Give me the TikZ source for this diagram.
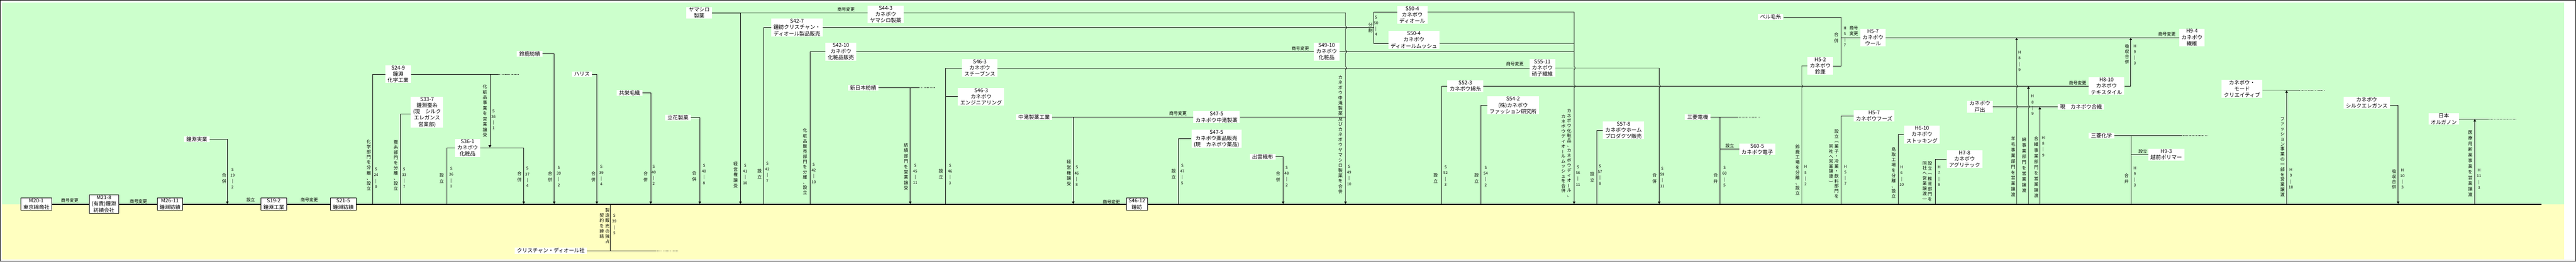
\documentclass[tikz,border=0pt]{standalone}
\usepackage{fontspec}
\setmainfont{Noto Sans CJK JP}
\usepackage{graphicx}
\usetikzlibrary{arrows.meta}

\definecolor{midori}{HTML}{CCFFCC}
\definecolor{kiiro}{HTML}{FFFFC0}

% tategaki
\newcommand\tate[2][11.4pt]{\vbox{\baselineskip=#1\lineskiplimit=-\maxdimen\tateA#2\relax}}
\def\tateA#1{\ifx\relax#1\else\tateB{#1}\expandafter\tateA\fi}
\def\tateB#1{\hbox to 11pt{\hss\tateC#1\hss}}
\def\tateC#1{\ifx ー#1\rotatebox[origin=c]{90}{ー}\else\ifx (#1\rotatebox[origin=c]{-90}{(}\else\ifx )#1\rotatebox[origin=c]{-90}{)}\else#1\fi\fi\fi}
\newcommand\hiduke[3]{\vbox{\baselineskip=12.7pt\lineskiplimit=-\maxdimen
  \hbox to 14pt{\hss#1\hss}\hbox to 14pt{\hss#2\hss}\hbox to 14pt{\hss|\hss}\hbox to 14pt{\hss#3\hss}}}

\begin{document}
\begin{tikzpicture}[x=1pt,y=-1.0994pt,
  lbl/.style={fill=white,inner xsep=5pt,inner ysep=1pt,align=center,font=\fontsize{11.5}{13.8}\selectfont},
  kaisha/.style={lbl,draw,line width=0.8pt,inner ysep=2pt},
  kw/.style={inner sep=0pt,font=\fontsize{9.5}{12.8}\selectfont},
  hd/.style={inner sep=0pt,font=\fontsize{8.5}{10}\selectfont},
  ln/.style={line width=0.8pt},
  arr/.style={ln,-{Triangle[width=6pt,length=5pt]},shorten >=0.8pt},
  tensen/.style={ln,dash pattern=on 1.6pt off 1.6pt},
  honsen/.style={line width=2.2pt}]
  \useasboundingbox (0,0) rectangle (5658,523);
  \fill[midori] (5,4.7) rectangle (5632,408.3);
  \fill[kiiro] (5,408.3) rectangle (5632,518.5);
  \draw[line width=0.9pt] (0.9,0.9) rectangle (5657.1,522.1);

  % main line
  \node[kaisha] (m20) at (79.8,408.3) {M20-1\\東京綿商社};
  \node[kaisha] (m21) at (228.3,408.3) {M21-8\\(有責)鐘淵\\紡績会社};
  \node[kaisha] (m26) at (373.3,408.3) {M26-11\\鐘淵紡績};
  \node[kaisha] (s19) at (601.3,408.3) {S19-2\\鐘淵工業};
  \node[kaisha] (s21) at (753.8,408.3) {S21-5\\鐘淵紡績};
  \node[kaisha] (s46) at (2497,408.3) {S46-12\\鐘紡};
  \coordinate (owari) at (5581.7,408.3);
  \node[kw] (h1) at (153.3,401) {商号変更};
  \node[kw] (h2) at (304,402.3) {商号変更};
  \node[kw] (h3) at (550.7,400) {設立};
  \node[kw] (h4) at (679.3,400) {商号変更};
  \node[kw] (h5) at (2441,403.3) {商号変更};

  % S19
  \node[lbl] (jitsugyo) at (432.3,278.3) {鐘淵実業};
  \coordinate (g19) at (499.3,408.3);
  \draw[arr] (jitsugyo.east) -| (g19);
  \node[kw] (t19) at (492.3,356.7) {\tate[13.5pt]{合併}};
  \node[hd] (d19) at (510.7,356.7) {\hiduke{S}{19}{2}};

  % S24
  \node[lbl] (kagaku) at (874.5,148.3) {S24-9\\鐘淵\\化学工業};
  \coordinate (g24) at (818.3,408.3);
  \coordinate (kagakuE) at (1093.3,148.3);
  \coordinate (kagakuD) at (1139.3,148.3);
  \draw[ln] (g24) |- (kagaku.west);
  \draw[ln] (kagaku.east) -- (kagakuE);
  \draw[tensen] (kagakuE) -- (kagakuD);
  \node[kw] (t24) at (810,330) {\tate{化学部門を分離、設立}};
  \node[hd] (d24) at (826,355.8) {\hiduke{S}{24}{9}};

  % S33
  \node[lbl] (sanshi) at (938,224.3) {S33-7\\鐘淵蚕糸\\(現　シルク\\エレガンス\\営業部)};
  \coordinate (g33) at (879.3,408.3);
  \draw[ln] (g33) |- ([yshift=-3.7pt]sanshi.west);
  \node[kw] (t33) at (869.3,330.8) {\tate{蚕糸部門を分離、設立}};
  \node[hd] (d33) at (887.7,355.5) {\hiduke{S}{33}{7}};

  % S36, S37
  \node[lbl] (kesho36) at (1027,295.7) {S36-1\\カネボウ\\化粧品};
  \coordinate (b36) at (1076,148.3);
  \coordinate (e36) at (1076,295.7);
  \coordinate (g36) at (981,408.3);
  \coordinate (g37) at (1150.3,408.3);
  \draw[arr] (b36) -- (e36);
  \draw[ln] (kesho36.west) -| (g36);
  \draw[arr] (kesho36.east) -| (g37);
  \node[kw] (t36a) at (1065.3,221.7) {\tate[11.8pt]{化粧品事業を営業譲受}};
  \node[hd] (d36a) at (1084,239) {\hiduke{S}{36}{1}};
  \node[kw] (t36b) at (970,356) {\tate[13.5pt]{設立}};
  \node[hd] (d36b) at (991,354.7) {\hiduke{S}{36}{1}};
  \node[kw] (t37) at (1141,353) {\tate[13.5pt]{合併}};
  \node[hd] (d37) at (1158.3,354) {\hiduke{S}{37}{4}};

  % S39
  \node[lbl] (suzuka) at (1163.5,107.7) {鈴鹿紡績};
  \coordinate (g39a) at (1217.3,408.3);
  \draw[arr] (suzuka.east) -| (g39a);
  \node[kw] (t39a) at (1208.3,353.5) {\tate[13.5pt]{合併}};
  \node[hd] (d39a) at (1227.3,352.5) {\hiduke{S}{39}{2}};
  \node[lbl] (harisu) at (1278.3,148.3) {ハリス};
  \coordinate (g39b) at (1311,408.3);
  \draw[arr] (harisu.east) -| (g39b);
  \node[kw] (t39b) at (1303.3,353) {\tate[13.5pt]{合併}};
  \node[hd] (d39b) at (1320.7,351) {\hiduke{S}{39}{4}};

  % Dior contract
  \node[lbl] (dior) at (1209.8,501.2) {クリスチャン・ディオール社};
  \coordinate (diorE) at (1440,501.2);
  \coordinate (diorD) at (1490,501.2);
  \coordinate (b39) at (1340.7,501.2);
  \coordinate (g39c) at (1340.7,408.3);
  \draw[ln] (dior.east) -- (diorE);
  \draw[tensen] (diorE) -- (diorD);
  \draw[ln] (b39) -- (g39c);
  \node[kw] (t39c) at (1334.3,451.7) {\tate{製造販売の独占}};
  \node[kw] (t39d) at (1321.7,451.7) {\tate{契約を締結}};
  \node[hd] (d39c) at (1349.3,448.5) {\hiduke{S}{39}{5}};

  % S40
  \node[lbl] (kyoei) at (1382.8,185.7) {共栄毛織};
  \coordinate (g40a) at (1429.3,408.3);
  \draw[arr] (kyoei.east) -| (g40a);
  \node[kw] (t40a) at (1418.3,353) {\tate[13.5pt]{合併}};
  \node[hd] (d40a) at (1435.7,350) {\hiduke{S}{40}{2}};
  \node[lbl] (tachibana) at (1489,235) {立花製菓};
  \coordinate (g40b) at (1537,408.3);
  \draw[arr] (tachibana.east) -| (g40b);
  \node[kw] (t40b) at (1525,352) {\tate[13.5pt]{合併}};
  \node[hd] (d40b) at (1546.3,348.5) {\hiduke{S}{40}{8}};

  % S41, S44
  \node[lbl] (yamashiro) at (1535.8,25.7) {ヤマシロ\\製薬};
  \coordinate (g41) at (1626.3,408.3);
  \draw[arr] (yamashiro.east) -| (g41);
  \node[lbl] (yamas44) at (1945.3,28.8) {S44-3\\カネボウ\\ヤマシロ製薬};
  \draw[ln] (yamashiro.east) -- ([yshift=3.4pt]yamas44.west);
  \node[kw] (h44) at (1858.3,19.3) {商号変更};
  \node[kw] (t41) at (1615.7,349.7) {\tate[12.1pt]{経営権譲受}};
  \node[hd] (d41) at (1636.7,348.5) {\hiduke{S}{41}{10}};

  % S42-7
  \node[lbl] (dior42) at (1750.5,55) {S42-7\\鐘紡クリスチャン・\\ディオール製品販売};
  \coordinate (g42a) at (1677.7,408.3);
  \coordinate (b50) at (3017.7,55);
  \draw[ln] (g42a) |- (dior42.west);
  \draw[ln] (dior42.east) -- (b50);
  \node[kw] (t42a) at (1668.3,348.3) {\tate[13.5pt]{設立}};
  \node[hd] (d42a) at (1685.3,344.2) {\hiduke{S}{42}{7}};

  % S42-10
  \node[lbl] (hanbai) at (1847,103.3) {S42-10\\カネボウ\\化粧品販売};
  \coordinate (g42b) at (1779.3,408.3);
  \draw[ln] (g42b) |- (hanbai.west);
  \node[kw] (t42b) at (1768.3,323.3) {\tate{化粧品販売部門を分離、設立}};
  \node[hd] (d42b) at (1787.3,346.3) {\hiduke{S}{42}{10}};
  \node[lbl] (kesho49) at (2913.8,103.3) {S49-10\\カネボウ\\化粧品};
  \node[kw] (h49) at (2856,96.7) {商号変更};
  \coordinate (e56b) at (3457.3,103.3);
  \draw[ln] (hanbai.east) -- (kesho49.west);
  \draw[ln] (kesho49.east) -- (e56b);

  % S45
  \node[lbl] (shinnihon) at (1895.8,175.7) {新日本紡績};
  \coordinate (shinE) at (2016.7,175.7);
  \coordinate (shinD) at (2054,175.7);
  \coordinate (b45) at (1999.3,175.7);
  \coordinate (g45) at (1999.3,408.3);
  \draw[ln] (shinnihon.east) -- (shinE);
  \draw[tensen] (shinE) -- (shinD);
  \draw[arr] (b45) -- (g45);
  \node[kw] (t45) at (1990,333.3) {\tate[11.8pt]{紡績部門を営業譲受}};
  \node[hd] (d45) at (2010,348) {\hiduke{S}{45}{11}};

  % S46-3, S55, S58
  \node[lbl] (stevens) at (2152,136) {S46-3\\カネボウ\\スチーブンス};
  \node[lbl] (eng) at (2155,193.3) {S46-3\\カネボウ\\エンジニアリング};
  \coordinate (g46a) at (2076.7,408.3);
  \coordinate (b46) at (2076.7,193.3);
  \draw[ln] (g46a) |- (stevens.west);
  \draw[ln] (b46) -- (eng.west);
  \node[kw] (t46a) at (2066.7,348.3) {\tate[13.5pt]{設立}};
  \node[hd] (d46a) at (2086.7,348.5) {\hiduke{S}{46}{3}};
  \node[lbl] (glass) at (3387.7,136) {S55-11\\カネボウ\\硝子繊維};
  \node[kw] (h55) at (3327.3,128.3) {商号変更};
  \draw[ln] (stevens.east) -- (glass.west);
  \coordinate (g58) at (3644.3,408.3);
  \draw[arr] (glass.east) -- (3644.3,136) -- (3644.3,169.8)
    .. controls +(3.3,0) and +(3.3,0) .. (3644.3,174.8) -- (g58);
  \node[kw] (t58) at (3634.3,356.7) {\tate[13.5pt]{合併}};
  \node[hd] (d58) at (3651,354.5) {\hiduke{S}{58}{11}};

  % S46-8, S47-5
  \node[lbl] (nakataki) at (2271.3,234.3) {中滝製薬工業};
  \coordinate (g46b) at (2357.3,408.3);
  \draw[arr] (nakataki.east) -| (g46b);
  \node[lbl] (nakas47) at (2672,234.3) {S47-5\\カネボウ中滝製薬};
  \node[kw] (h47) at (2587.3,226.7) {商号変更};
  \coordinate (e49) at (2955.3,234.3);
  \draw[ln] (nakataki.east) -- (nakas47.west);
  \draw[ln] (nakas47.east) -- (e49);
  \node[kw] (t46b) at (2347.7,345.7) {\tate[12.1pt]{経営権譲受}};
  \node[hd] (d46b) at (2365,352) {\hiduke{S}{46}{8}};

  \node[lbl] (yakuhin) at (2671.8,277.5) {S47-5\\カネボウ薬品販売\\(現　カネボウ薬品)};
  \coordinate (g47) at (2588.7,408.3);
  \draw[ln] (g47) |- (yakuhin.west);
  \node[kw] (t47) at (2577.7,348) {\tate[13.5pt]{設立}};
  \node[hd] (d47) at (2596.7,348.5) {\hiduke{S}{47}{5}};

  % S48
  \node[lbl] (izumo) at (2773.3,313.3) {出雲織布};
  \coordinate (g48) at (2818.3,408.3);
  \draw[arr] (izumo.east) -| (g48);
  \node[kw] (t48) at (2807.3,353.3) {\tate[13.5pt]{合併}};
  \node[hd] (d48) at (2826,352.5) {\hiduke{S}{48}{2}};

  % S49-10
  \coordinate (g49) at (2955.3,408.3);
  \draw[arr] ([yshift=3.4pt]yamas44.east) -- (2955.3,25.7) -- (2955.3,52.5)
    .. controls +(3.3,0) and +(3.3,0) .. (2955.3,57.5) -- (2955.3,100.8)
    .. controls +(3.3,0) and +(3.3,0) .. (2955.3,105.8) -- (2955.3,133.5)
    .. controls +(3.3,0) and +(3.3,0) .. (2955.3,138.5) -- (g49);
  \node[kw] (t49) at (2944.3,269) {\tate{カネボウ中滝製薬及びカネボウヤマシロ製薬を合併}};
  \node[hd] (d49) at (2963.3,350.5) {\hiduke{S}{49}{10}};

  % S50-4
  \node[lbl] (diorA) at (3102,30) {S50-4\\カネボウ\\ディオール};
  \node[lbl] (diorB) at (3105.5,79.7) {S50-4\\カネボウ\\ディオールムッシュ};
  \draw[ln] ([yshift=6.6pt]diorA.west) -| (b50) |- ([yshift=-7.7pt]diorB.west);
  \node[kw] (t50) at (3010,55.5) {\tate[12pt]{分割}};
  \node[hd] (d50) at (3022.3,51.5) {\hiduke{S}{50}{4}};

  % S52-3, H8-10
  \node[lbl] (menshi) at (3218.5,172.3) {S52-3\\カネボウ綿糸};
  \coordinate (g52) at (3166.7,408.3);
  \draw[ln] (g52) |- (menshi.west);
  \node[kw] (t52) at (3153.3,356.7) {\tate[13.5pt]{設立}};
  \node[hd] (d52) at (3175,351.7) {\hiduke{S}{52}{3}};
  \node[lbl] (textile) at (4626.7,172.3) {H8-10\\カネボウ\\テキスタイル};
  \node[kw] (h810) at (4563.3,165.7) {商号変更};
  \draw[ln] (menshi.east) -- (textile.west);

  % S54-2
  \node[lbl] (kenkyu) at (3323.3,210.7) {S54-2\\(株)カネボウ\\ファッション研究所};
  \coordinate (g54) at (3252.3,408.3);
  \draw[ln] (g54) |- (kenkyu.west);
  \node[kw] (t54) at (3243.3,356) {\tate[13.5pt]{設立}};
  \node[hd] (d54) at (3263.3,352.5) {\hiduke{S}{54}{2}};

  % S56-11
  \coordinate (g56) at (3457.3,408.3);
  \draw[arr] ([yshift=6.6pt]diorA.east) -- (3457.3,24) -- (3457.3,133.5)
    .. controls +(3.3,0) and +(3.3,0) .. (3457.3,138.5) -- (3457.3,169.8)
    .. controls +(3.3,0) and +(3.3,0) .. (3457.3,174.8) -- (g56);
  \draw[ln] ([yshift=-7.7pt]diorB.east) -- (3457.3,86.7);
  \node[kw] (t56a) at (3446.7,306) {\tate[10.9pt]{カネボウ化粧品、カネボウディオール、}};
  \node[kw] (t56b) at (3434,307.5) {\tate[10.9pt]{カネボウディオールムッシュを合併}};
  \node[hd] (d56) at (3466,351.5) {\hiduke{S}{56}{11}};

  % S57-8
  \node[lbl] (home) at (3566,260.5) {S57-8\\カネボウホーム\\プロダクツ販売};
  \coordinate (g57) at (3507,408.3);
  \draw[ln] (g57) |- (home.west);
  \node[kw] (t57) at (3497.3,354.3) {\tate[13.5pt]{設立}};
  \node[hd] (d57) at (3514.3,349.5) {\hiduke{S}{57}{8}};

  % S60-5
  \node[lbl] (mdenki) at (3728.8,234.3) {三菱電機};
  \coordinate (mdenkiE) at (3816,234.3);
  \coordinate (mdenkiD) at (3866.7,234.3);
  \coordinate (b60) at (3777.3,234.3);
  \coordinate (c60) at (3777.3,298.3);
  \coordinate (g60) at (3777.3,408.3);
  \draw[ln] (mdenki.east) -- (mdenkiE);
  \draw[tensen] (mdenkiE) -- (mdenkiD);
  \draw[ln] (b60) -- (g60);
  \node[lbl] (denshi) at (3859.5,298.3) {S60-5\\カネボウ電子};
  \draw[ln] (c60) -- (denshi.west);
  \node[kw] (h60) at (3799.3,291.7) {設立};
  \node[kw] (t60) at (3768.3,356.7) {\tate[13.5pt]{合弁}};
  \node[hd] (d60) at (3787.7,352.7) {\hiduke{S}{60}{5}};

  % H5
  \node[lbl] (beru) at (3888.8,34) {ベル毛糸};
  \node[lbl] (suzukaH) at (3998,131.7) {H5-2\\カネボウ\\鈴鹿};
  \coordinate (gH5a) at (3957.3,408.3);
  \coordinate (bH5) at (4043.3,131.7);
  \coordinate (cH5) at (4043.3,75);
  \draw[ln] (gH5a) -- (3957.3,174.8) .. controls +(3.3,0) and +(3.3,0) .. (3957.3,169.8) |- (suzukaH.west);
  \draw[ln] (beru.east) -| (bH5) -- (suzukaH.east);
  \node[lbl] (wool) at (4113.8,75) {H5-7\\カネボウ\\ウール};
  \draw[ln] (cH5) -- (wool.west);
  \node[lbl] (seni) at (4814.5,75) {H9-4\\カネボウ\\繊維};
  \node[kw] (h94) at (4759.3,68) {商号変更};
  \draw[ln] (wool.east) -- (seni.west);
  \node[kw] (t5a) at (3948.3,339.7) {\tate{鈴鹿工場を分離、設立}};
  \node[hd] (d5a) at (3965.7,351) {\hiduke{H}{5}{2}};
  \node[kw] (t5b) at (4033.3,75.5) {\tate[13.5pt]{合併}};
  \node[hd] (d5b) at (4052.3,73.3) {\hiduke{H}{5}{7}};
  \node[kw,align=center] (h57) at (4071.7,61.7) {商号\\変更};

  \node[lbl] (foods) at (4116.3,232) {H5-7\\カネボウフーズ};
  \coordinate (gH5b) at (4043.3,408.3);
  \draw[ln] (gH5b) |- (foods.west);
  \node[kw] (t5c) at (4034,327.5) {\tate[10.9pt]{設立(菓子・冷菓・飲料部門を}};
  \node[kw] (t5d) at (4021.7,327.5) {\tate[10.9pt]{同社へ営業譲渡)}};
  \node[hd] (d5c) at (4053.3,350.3) {\hiduke{H}{5}{7}};

  % H6-10
  \node[lbl] (stocking) at (4221.3,269.3) {H6-10\\カネボウ\\ストッキング};
  \coordinate (gH6) at (4168.7,408.3);
  \draw[ln] (gH6) |- (stocking.west);
  \node[kw] (t6) at (4159.3,345.5) {\tate{鳥取工場を分離、設立}};
  \node[hd] (d6) at (4176.7,351.7) {\hiduke{H}{6}{10}};

  % H7-8
  \node[lbl] (agri) at (4315,318.3) {H7-8\\カネボウ\\アグリテック};
  \coordinate (gH7) at (4250.7,408.3);
  \draw[ln] (gH7) |- (agri.west);
  \node[kw] (t7a) at (4239,362.5) {\tate[11.2pt]{設立(椎茸部門を}};
  \node[kw] (t7b) at (4227.3,361.7) {\tate[11.2pt]{同社へ営業譲渡)}};
  \node[hd] (d7) at (4259,351.7) {\hiduke{H}{7}{8}};

  % H8-9
  \node[lbl] (toide) at (4348.5,213.3) {カネボウ\\戸出};
  \node[lbl] (gosen) at (4570.8,213.3) {現　カネボウ合織};
  \draw[ln] (toide.east) -- (gosen.west);
  \coordinate (gH8a) at (4429.3,408.3);
  \coordinate (uH8a) at (4429.3,75);
  \draw[arr] (gH8a) -- (4429.3,215.8) .. controls +(3.3,0) and +(3.3,0) .. (4429.3,210.8)
    -- (4429.3,174.8) .. controls +(3.3,0) and +(3.3,0) .. (4429.3,169.8) -- (uH8a);
  \coordinate (gH8b) at (4455.3,408.3);
  \coordinate (uH8b) at (4455.3,172.3);
  \draw[arr] (gH8b) -- (4455.3,215.8) .. controls +(3.3,0) and +(3.3,0) .. (4455.3,210.8) -- (uH8b);
  \coordinate (gH8c) at (4480.3,408.3);
  \coordinate (uH8c) at (4480.3,213.3);
  \draw[arr] (gH8c) -- (uH8c);
  \node[kw] (t8a) at (4421.7,333.5) {\tate[12.3pt]{羊毛事業部門を営業譲渡}};
  \node[hd] (d8a) at (4435.7,122.3) {\hiduke{H}{8}{9}};
  \node[kw] (t8b) at (4445.7,330) {\tate[12.5pt]{綿事業部門を営業譲渡}};
  \node[hd] (d8b) at (4464.3,210) {\hiduke{H}{8}{9}};
  \node[kw] (t8c) at (4472.3,334.5) {\tate[12.5pt]{合繊事業部門を営業譲渡}};
  \node[hd] (d8c) at (4487.7,293) {\hiduke{H}{8}{9}};

  % H9-3
  \coordinate (uH9) at (4680,75);
  \draw[arr] (textile.east) -| (uH9);
  \node[kw] (t9a) at (4671.7,109) {\tate{吸収合併}};
  \node[hd] (d9a) at (4689,109.5) {\hiduke{H}{9}{3}};
  \node[lbl] (mkagaku) at (4615.8,271) {三菱化学};
  \coordinate (mkagakuE) at (4791.7,271);
  \coordinate (mkagakuD) at (4847.7,271);
  \coordinate (bH9) at (4680.7,271);
  \coordinate (cH9) at (4680.7,309.3);
  \coordinate (gH9) at (4680.7,408.3);
  \draw[ln] (mkagaku.east) -- (mkagakuE);
  \draw[tensen] (mkagakuE) -- (mkagakuD);
  \draw[ln] (bH9) -- (gH9);
  \node[lbl] (echizen) at (4758,309.3) {H9-3\\越前ポリマー};
  \draw[ln] (cH9) -- (echizen.west);
  \node[kw] (h93) at (4706.7,303.3) {設立};
  \node[kw] (t9b) at (4670.7,357) {\tate[13.5pt]{合弁}};
  \node[hd] (d9b) at (4689,353.3) {\hiduke{H}{9}{3}};

  % H9-10
  \node[lbl] (mode) at (4924.5,177.5) {カネボウ・\\モード\\クリエイティブ};
  \coordinate (modeE) at (5050,180.3);
  \coordinate (modeD) at (5105,180.3);
  \coordinate (gH910) at (5022.3,408.3);
  \coordinate (uH910) at (5022.3,180.3);
  \draw[ln] ([yshift=-3pt]mode.east) -- (modeE);
  \draw[tensen] (modeE) -- (modeD);
  \draw[arr] (gH910) -- (uH910);
  \node[kw] (t910) at (5013.3,314) {\tate[11.1pt]{ファッション事業の一部を営業譲渡}};
  \node[hd] (d910) at (5031.7,357) {\hiduke{H}{9}{10}};

  % H10-3
  \node[lbl] (silk) at (5198.3,205) {カネボウ\\シルクエレガンス};
  \coordinate (gH10) at (5267.3,408.3);
  \draw[arr] ([yshift=-6.3pt]silk.east) -| (gH10);
  \node[kw] (t10) at (5258.3,358.5) {\tate{吸収合併}};
  \node[hd] (d10) at (5276.7,357.5) {\hiduke{H}{10}{3}};

  % H11-3
  \node[lbl] (organon) at (5367.5,237.7) {日本\\オルガノン};
  \coordinate (organonE) at (5465,237.7);
  \coordinate (organonD) at (5526.7,237.7);
  \coordinate (gH11) at (5435.7,408.3);
  \coordinate (uH11) at (5435.7,237.7);
  \draw[ln] (organon.east) -- (organonE);
  \draw[tensen] (organonE) -- (organonD);
  \draw[arr] (gH11) -- (uH11);
  \node[kw] (t11) at (5425.7,327.5) {\tate[12.4pt]{医療用新薬事業を営業譲渡}};
  \node[hd] (d11) at (5445,358) {\hiduke{H}{11}{3}};

  \draw[honsen] (m20.east) -- (m21.west) (m21.east) -- (m26.west) (m26.east) -- (s19.west)
    (s19.east) -- (s21.west) (s21.east) -- (s46.west) (s46.east) -- (owari);
\end{tikzpicture}
\end{document}
